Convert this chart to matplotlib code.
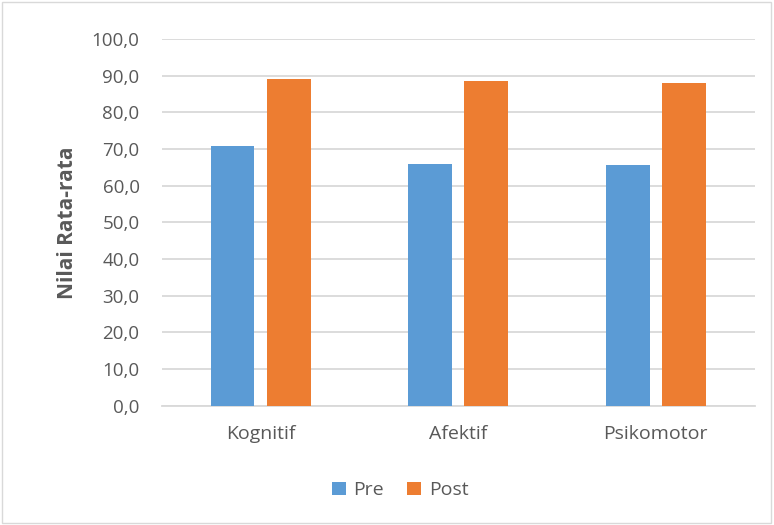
import matplotlib.pyplot as plt
import numpy as np
from matplotlib.patches import Rectangle

# Data
kategori = ['Kognitif', 'Afektif', 'Psikomotor']
nilai_pre = [70.7, 65.9, 65.6]
nilai_post = [89.1, 88.6, 87.9]

warna_pre = '#5B9BD5'
warna_post = '#ED7D31'
abu = '#595959'
garis = '#D9D9D9'

plt.rcParams['font.family'] = ['Open Sans', 'DejaVu Sans']

fig = plt.figure(figsize=(7.74, 5.25), dpi=100)
ax = fig.add_axes([0.209, 0.2272, 0.766, 0.6985])

x = np.arange(len(kategori))
lebar = 0.222
ax.bar(x - 0.142, nilai_pre, lebar, color=warna_pre, label='Pre', zorder=3)
ax.bar(x + 0.142, nilai_post, lebar, color=warna_post, label='Post', zorder=3)

ax.set_xlim(-0.5, 2.5)
ax.set_ylim(0, 100)
ax.set_yticks(np.arange(0, 101, 10))
ax.set_yticklabels([f'{v:.1f}'.replace('.', ',') for v in np.arange(0, 101, 10)])
ax.set_xticks(x)
ax.set_xticklabels(kategori)

ax.grid(axis='y', color=garis, linewidth=1.3, zorder=0)
for s in ['top', 'right', 'left']:
    ax.spines[s].set_visible(False)
ax.spines['bottom'].set_color(garis)
ax.spines['bottom'].set_linewidth(1.3)
ax.tick_params(axis='both', length=0, colors=abu)
ax.tick_params(axis='y', pad=16, labelsize=13.5)
ax.tick_params(axis='x', pad=14, labelsize=14)

ax.set_ylabel('Nilai Rata-rata', fontsize=15, fontweight='bold', color=abu, labelpad=10)

fig.legend(loc='center', bbox_to_anchor=(0.517, 0.066), ncol=2, frameon=False,
           fontsize=14, handlelength=0.7, handleheight=0.7, handletextpad=0.4,
           columnspacing=1.2, labelcolor=abu)

# bingkai luar grafik
fig.patches.append(Rectangle((0.002, 0.004), 0.994, 0.992, transform=fig.transFigure,
                             fill=False, edgecolor=garis, linewidth=1))

plt.savefig('out.png', dpi=100)
